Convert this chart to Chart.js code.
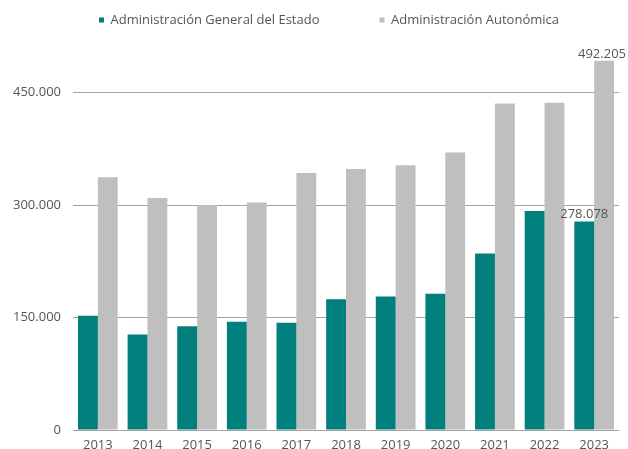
<!DOCTYPE html>
<html>
<head>
<meta charset="utf-8">
<script src="https://cdn.jsdelivr.net/npm/chart.js@4/dist/chart.umd.min.js"></script>
<style>
  html, body { margin: 0; padding: 0; background: #ffffff; }
  #wrap { width: 628px; height: 449px; position: relative; }
</style>
</head>
<body>
<div id="wrap"><canvas id="c" width="628" height="449"></canvas></div>
<script>
const years = ['2013','2014','2015','2016','2017','2018','2019','2020','2021','2022','2023'];
const ageValues = [152200, 127300, 138400, 144200, 142900, 174500, 178000, 181600, 235400, 292000, 278078];
const autonomicaValues = [336900, 309400, 300000, 303500, 342700, 348100, 352900, 369900, 435300, 436200, 492205];
const seriesNames = ['Administración General del Estado', 'Administración Autonómica'];
const yTicks = [0, 150000, 300000, 450000];
const labelledPoints = [[0, 10], [1, 10]]; // [dataset, index] values shown as labels

const FONT = '"Open Sans", Lato, sans-serif';
const TEXT = '#555555';
const fmt = v => Math.round(v).toString().replace(/\B(?=(\d{3})+(?!\d))/g, '.');

const valueLabels = {
  id: 'valueLabels',
  afterDatasetsDraw(chart) {
    const ctx = chart.ctx;
    ctx.save();
    ctx.font = '13px ' + FONT;
    ctx.fillStyle = TEXT;
    ctx.textAlign = 'center';
    ctx.textBaseline = 'alphabetic';
    labelledPoints.forEach(([d, i]) => {
      const el = chart.getDatasetMeta(d).data[i];
      const txt = fmt(chart.data.datasets[d].data[i]);
      const w = ctx.measureText(txt).width;
      let x = el.x;
      const maxX = chart.width - 2 - w / 2;
      if (x > maxX) x = maxX;
      ctx.fillText(txt, x, el.y - 3);
    });
    ctx.restore();
  }
};

const LEGEND_PAD = 60;
const legendTweak = {
  id: 'legendTweak',
  beforeInit(chart) {
    const origFit = chart.legend.fit;
    chart.legend.fit = function () {
      origFit.call(this);
      this.height = 55;
    };
  },
  afterLayout(chart) {
    const lg = chart.legend;
    lg.top = 20 - LEGEND_PAD - 6.5;
    lg.left += 19;
    lg.right += 19;
  }
};

new Chart(document.getElementById('c'), {
  type: 'bar',
  data: {
    labels: years,
    datasets: [
      { label: seriesNames[0], data: ageValues, backgroundColor: '#007f7d', borderWidth: 0 },
      { label: seriesNames[1], data: autonomicaValues, backgroundColor: '#bfbfbf', borderWidth: 0 }
    ]
  },
  options: {
    responsive: false,
    animation: false,
    devicePixelRatio: 1,
    layout: { padding: { left: 1, right: 9, top: 0, bottom: 0 } },
    datasets: { bar: { categoryPercentage: 0.8, barPercentage: 1.0 } },
    plugins: {
      legend: {
        position: 'top',
        align: 'center',
        labels: {
          font: { family: FONT, size: 13 },
          color: TEXT,
          boxWidth: 5,
          boxHeight: 5,
          padding: LEGEND_PAD
        }
      },
      tooltip: { enabled: false }
    },
    scales: {
      x: {
        grid: { display: false, drawTicks: false },
        border: { display: false },
        ticks: { font: { family: FONT, size: 13 }, color: TEXT, padding: 7 },
        afterFit: (scale) => { scale.height = 19; }
      },
      y: {
        min: 0,
        max: 500000,
        afterBuildTicks: (scale) => { scale.ticks = yTicks.map(v => ({ value: v })); },
        afterFit: (scale) => { scale.paddingTop = 0; scale.paddingBottom = 0; },
        grid: { color: '#a3a3a3', lineWidth: 1, drawTicks: false },
        border: { display: false },
        ticks: {
          font: { family: FONT, size: 13 },
          color: TEXT,
          padding: 12,
          callback: v => fmt(v)
        }
      }
    }
  },
  plugins: [valueLabels, legendTweak]
});
</script>
</body>
</html>
